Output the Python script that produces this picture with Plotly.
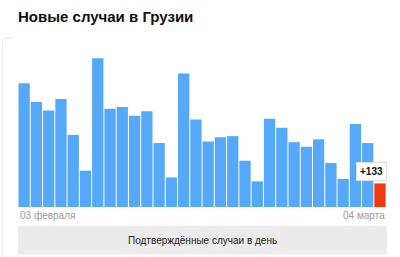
import plotly.graph_objects as go
import pandas as pd

dates = pd.date_range("2021-02-03", "2021-03-04", freq="D").strftime("%Y-%m-%d").tolist()
cases = [699, 592, 545, 609, 407, 205, 840, 554, 565, 515, 541, 361, 167, 754, 494,
         370, 393, 400, 261, 145, 498, 447, 366, 340, 382, 248, 158, 468, 361, 133]
tick_labels = ["03 февраля", "04 марта"]
title = "Новые случаи в Грузии"
button_text = "Подтверждённые случаи в день"

BLUE = "#56a9f8"
RED = "#f23a10"
colors = [BLUE] * (len(cases) - 1) + [RED]

W, H = 400, 257
L, R, T, B = 18.3, 12.7, 50, 49.7
ph = H - T - B
pw = W - L - R

def py(y):  # pixel y -> paper y
    return (H - B - y) / ph

def px(x):
    return (x - L) / pw

fig = go.Figure(go.Bar(x=dates, y=cases, marker=dict(color=colors, line=dict(width=0)),
                       hoverinfo="skip"))

fig.update_layout(
    width=W, height=H,
    margin=dict(l=L, r=R, t=T, b=B),
    paper_bgcolor="white", plot_bgcolor="white",
    bargap=0.08,
    showlegend=False,
    font=dict(family="Liberation Sans, Arial, sans-serif"),
    title=dict(text="<b>" + title + "</b>", x=18 / W, xref="container", xanchor="left",
               y=1 - 17 / H, yref="container", yanchor="middle",
               font=dict(size=15, color="#111111")),
    xaxis=dict(type="category", showticklabels=False, showgrid=False, zeroline=False,
               showline=False, ticks=""),
    yaxis=dict(range=[0, 886], visible=False, showgrid=False, zeroline=False),
)

# tick labels at ends
fig.add_annotation(x=0, xref="paper", y=py(216), yref="paper", text=tick_labels[0],
                   showarrow=False, xanchor="left", yanchor="middle",
                   font=dict(size=10, color="#9a9a9a"))
fig.add_annotation(x=1, xref="paper", y=py(216), yref="paper", text=tick_labels[1],
                   showarrow=False, xanchor="right", yanchor="middle",
                   font=dict(size=10, color="#9a9a9a"))

# value badge on last bar
fig.add_annotation(x=dates[-1], y=cases[-1], xref="x", yref="y",
                   text="<b>+" + str(cases[-1]) + "</b>", showarrow=False,
                   xanchor="right", yanchor="bottom", xshift=7, yshift=2,
                   bgcolor="white", bordercolor="#dddddd", borderwidth=1, borderpad=3,
                   font=dict(size=10, color="#111111"))

# button
fig.add_shape(type="rect", xref="paper", yref="paper", x0=0, x1=1, y0=py(255), y1=py(226),
              fillcolor="#ebebeb", line=dict(width=0), layer="below")
fig.add_annotation(x=0.5, xref="paper", y=py(240.5), yref="paper", text=button_text,
                   showarrow=False, xanchor="center", yanchor="middle",
                   font=dict(size=10, color="#222222"))

# card left border
fig.add_shape(type="line", xref="paper", yref="paper", x0=px(2.5), x1=px(2.5),
              y0=py(257), y1=py(42), line=dict(color="#e6e6e6", width=1))
fig.add_shape(type="path", xref="paper", yref="paper",
              path=f"M {px(2.5)},{py(42)} Q {px(2.5)},{py(38)} {px(7)},{py(38)} L {px(12)},{py(38)}",
              line=dict(color="#e6e6e6", width=1))

fig.write_html("out.html")
